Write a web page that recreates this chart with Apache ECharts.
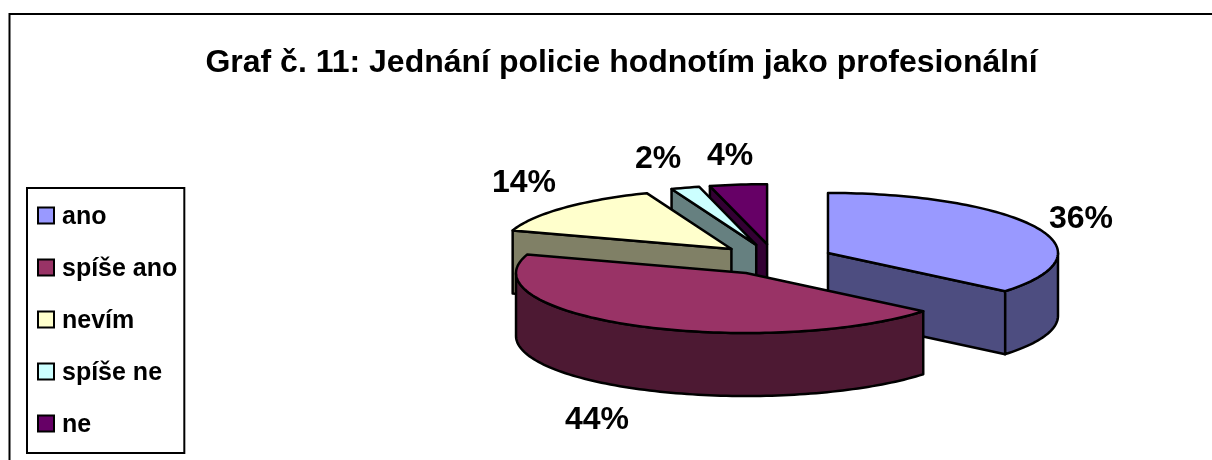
<!DOCTYPE html>
<html><head><meta charset="utf-8">
<style>html,body{margin:0;padding:0;background:#fff}#c{width:1212px;height:460px}</style>
<script src="https://cdn.jsdelivr.net/npm/echarts@6/dist/echarts.min.js"></script>
</head><body><div id="c"></div>
<script>
const titleText = 'Graf č. 11: Jednání policie hodnotím jako profesionální';
const categories = ['ano', 'spíše ano', 'nevím', 'spíše ne', 'ne'];
const values = [36, 44, 14, 2, 4];
const topColors = ['#9999FF', '#993366', '#FFFFCC', '#CCFFFF', '#660066'];
const wallColors = ['#4D4D80', '#4D1933', '#808066', '#668080', '#330033'];
const drawOrder = [4, 3, 2, 0, 1];

// 3D pie layout
const CX = 774.5, CY = 259.5, RX = 230, RY = 60, DEPTH = 63, EXPLODE = 0.257;
const labelCentres = [[1081, 219], [597, 420], [524, 183], [658, 159], [730, 156]];

const total = values.reduce((s, v) => s + v, 0);
function sliceAngles(i) {
  let before = 0;
  for (let k = 0; k < i; k++) before += values[k];
  return [before / total * Math.PI * 2, (before + values[i]) / total * Math.PI * 2];
}
function renderSlice(i) {
  return function (params, api) {
    const v = api.value(0);
    const [a0, a1] = sliceAngles(i);
    const mid = (a0 + a1) / 2;
    const ax = CX + EXPLODE * RX * Math.sin(mid);
    const ay = CY - EXPLODE * RY * Math.cos(mid);
    const pt = (a, d) => [ax + RX * Math.sin(a), ay - RY * Math.cos(a) + (d || 0)];
    const arc = (s, e) => {
      const out = [], n = Math.max(2, Math.ceil((e - s) * 40));
      for (let k = 0; k <= n; k++) out.push(pt(s + (e - s) * k / n));
      return out;
    };
    const line = { stroke: '#000', lineWidth: 2.5, lineJoin: 'round' };
    const children = [];
    const wall = (pts) => children.push({
      type: 'polygon',
      shape: { points: pts.concat(pts.slice().reverse().map(p => [p[0], p[1] + DEPTH])) },
      style: Object.assign({ fill: wallColors[i] }, line)
    });
    // radial face at the slice start, if it faces the viewer
    if (Math.cos(a0 - Math.PI / 2) < -1e-6) wall([pt(a0), [ax, ay]]);
    // radial face at the slice end, if it faces the viewer
    if (Math.cos(a1 + Math.PI / 2) < -1e-6) wall([[ax, ay], pt(a1)]);
    // outer rim: front half only
    const fs = Math.max(a0, Math.PI / 2), fe = Math.min(a1, Math.PI * 1.5);
    if (fe > fs) wall(arc(fs, fe));
    children.push({
      type: 'polygon',
      shape: { points: [[ax, ay]].concat(arc(a0, a1)) },
      style: Object.assign({ fill: topColors[i] }, line)
    });
    children.push({
      type: 'text',
      style: {
        x: labelCentres[i][0], y: labelCentres[i][1],
        text: Math.round(v / total * 100) + '%',
        fill: '#000', align: 'center', verticalAlign: 'middle',
        font: 'bold 32px "Liberation Sans", Arial, sans-serif'
      }
    });
    return { type: 'group', children };
  };
}

const chart = echarts.init(document.getElementById('c'), null, { renderer: 'canvas' });
chart.setOption({
  animation: false,
  backgroundColor: '#fff',
  title: {
    text: titleText, left: 616.5, top: 42, textAlign: 'center',
    textStyle: { fontFamily: '"Liberation Sans", Arial, sans-serif', fontWeight: 'bold', fontSize: 32, color: '#000' }
  },
  legend: {
    orient: 'vertical', left: 27, top: 188,
    data: categories, icon: 'rect', itemWidth: 16, itemHeight: 16, itemGap: 27, itemStyle: { borderColor: '#000', borderWidth: 2 },
    padding: [17, 7, 15, 10], selectedMode: false,
    borderColor: '#000', borderWidth: 2, backgroundColor: '#fff',
    formatter: '{t|{name}}',
    textStyle: {
      rich: { t: { fontFamily: '"Liberation Sans", Arial, sans-serif', fontWeight: 'bold', fontSize: 25, color: '#000', padding: [4, 0, 0, 3] } }
    }
  },
  graphic: [
    { type: 'polyline', silent: true, shape: { points: [[9.5, 460], [9.5, 14], [1212, 14]] }, style: { stroke: '#000', lineWidth: 2, fill: null } }
  ],
  series: drawOrder.map(i => ({
    type: 'custom', name: categories[i], coordinateSystem: 'none',
    silent: true, itemStyle: { color: topColors[i] },
    data: [[values[i]]], renderItem: renderSlice(i)
  }))
});
</script></body></html>
